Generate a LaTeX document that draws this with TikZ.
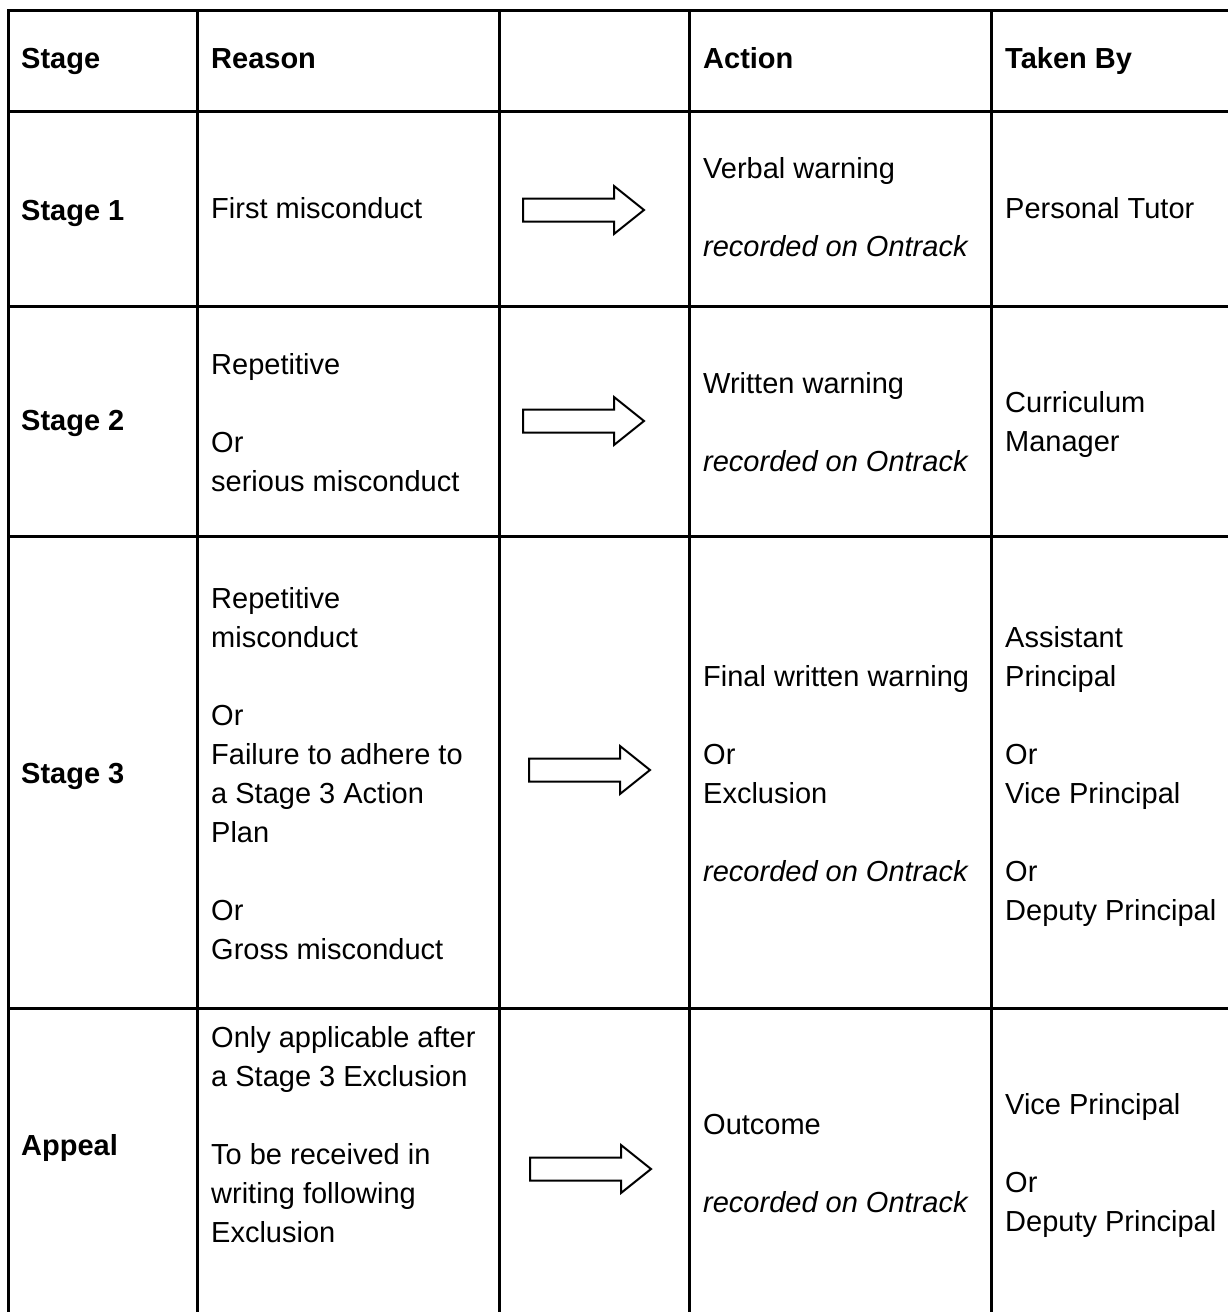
\documentclass[tikz,border=0pt]{standalone}
\usepackage{fontspec}
\setmainfont{Liberation Sans}
\newcommand\celltext[1]{\begin{tabular}[t]{@{}l@{}}#1\end{tabular}}
\begin{document}
\begin{tikzpicture}[x=1pt,y=-1pt,
  gridline/.style={line width=3pt, line cap=rect},
  txt/.style={anchor=base west, inner sep=0pt, font=\fontsize{29}{39}\selectfont},
  hd/.style={anchor=base west, inner sep=0pt, font=\fontsize{29}{39}\selectfont\bfseries},
  arrowline/.style={draw=black, line width=2pt, fill=white, line join=miter},
  fatarrow/.pic={\draw[arrowline] (0,-11.5) -- (91,-11.5) -- (91,-24) -- (121,0) -- (91,24) -- (91,11.5) -- (0,11.5) -- cycle;}]
\useasboundingbox (0,0) rectangle (1228,1312);
\clip (0,0) rectangle (1228,1312);
% grid
\foreach \yy in {10,111,306,536,1008} \draw[gridline] (8,\yy) -- (1240,\yy);
\foreach \xx in {8,197,499,689,991} \draw[gridline] (\xx,10) -- (\xx,1330);
% header
\node[hd] (hStage) at (21,68) {Stage};
\node[hd] (hReason) at (211,68) {Reason};
\node[hd] (hAction) at (703,68) {Action};
\node[hd] (hTaken) at (1005,68) {Taken By};
% stage 1
\node[hd] (s1) at (21,220) {Stage 1};
\node[txt] (r1) at (211,218) {First misconduct};
\node[txt] (a1) at (703,178) {\celltext{Verbal warning\\[39pt] \itshape recorded on Ontrack}};
\node[txt] (t1) at (1005,218) {Personal Tutor};
\pic at (523,210) {fatarrow};
% stage 2
\node[hd] (s2) at (21,430) {Stage 2};
\node[txt] (r2) at (211,374) {\celltext{Repetitive\\[39pt] Or\\ serious misconduct}};
\node[txt] (a2) at (703,393) {\celltext{Written warning\\[39pt] \itshape recorded on Ontrack}};
\node[txt] (t2) at (1005,412) {\celltext{Curriculum\\ Manager}};
\pic at (523,421) {fatarrow};
% stage 3
\node[hd] (s3) at (21,783) {Stage 3};
\node[txt] (r3) at (211,608) {\celltext{Repetitive\\ misconduct\\[39pt] Or\\ Failure to adhere to\\ a Stage 3 Action\\ Plan\\[39pt] Or\\ Gross misconduct}};
\node[txt] (a3) at (703,686) {\celltext{Final written warning\\[39pt] Or\\ Exclusion\\[39pt] \itshape recorded on Ontrack}};
\node[txt] (t3) at (1005,647) {\celltext{Assistant\\ Principal\\[39pt] Or\\ Vice Principal\\[39pt] Or\\ Deputy Principal}};
\pic at (529,770) {fatarrow};
% appeal
\node[hd] (s4) at (21,1155) {Appeal};
\node[txt] (r4) at (211,1047) {\celltext{Only applicable after\\ a Stage 3 Exclusion\\[39pt] To be received in\\ writing following\\ Exclusion}};
\node[txt] (a4) at (703,1134) {\celltext{Outcome\\[39pt] \itshape recorded on Ontrack}};
\node[txt] (t4) at (1005,1114) {\celltext{Vice Principal\\[39pt] Or\\ Deputy Principal}};
\pic at (530,1169) {fatarrow};
\end{tikzpicture}
\end{document}
